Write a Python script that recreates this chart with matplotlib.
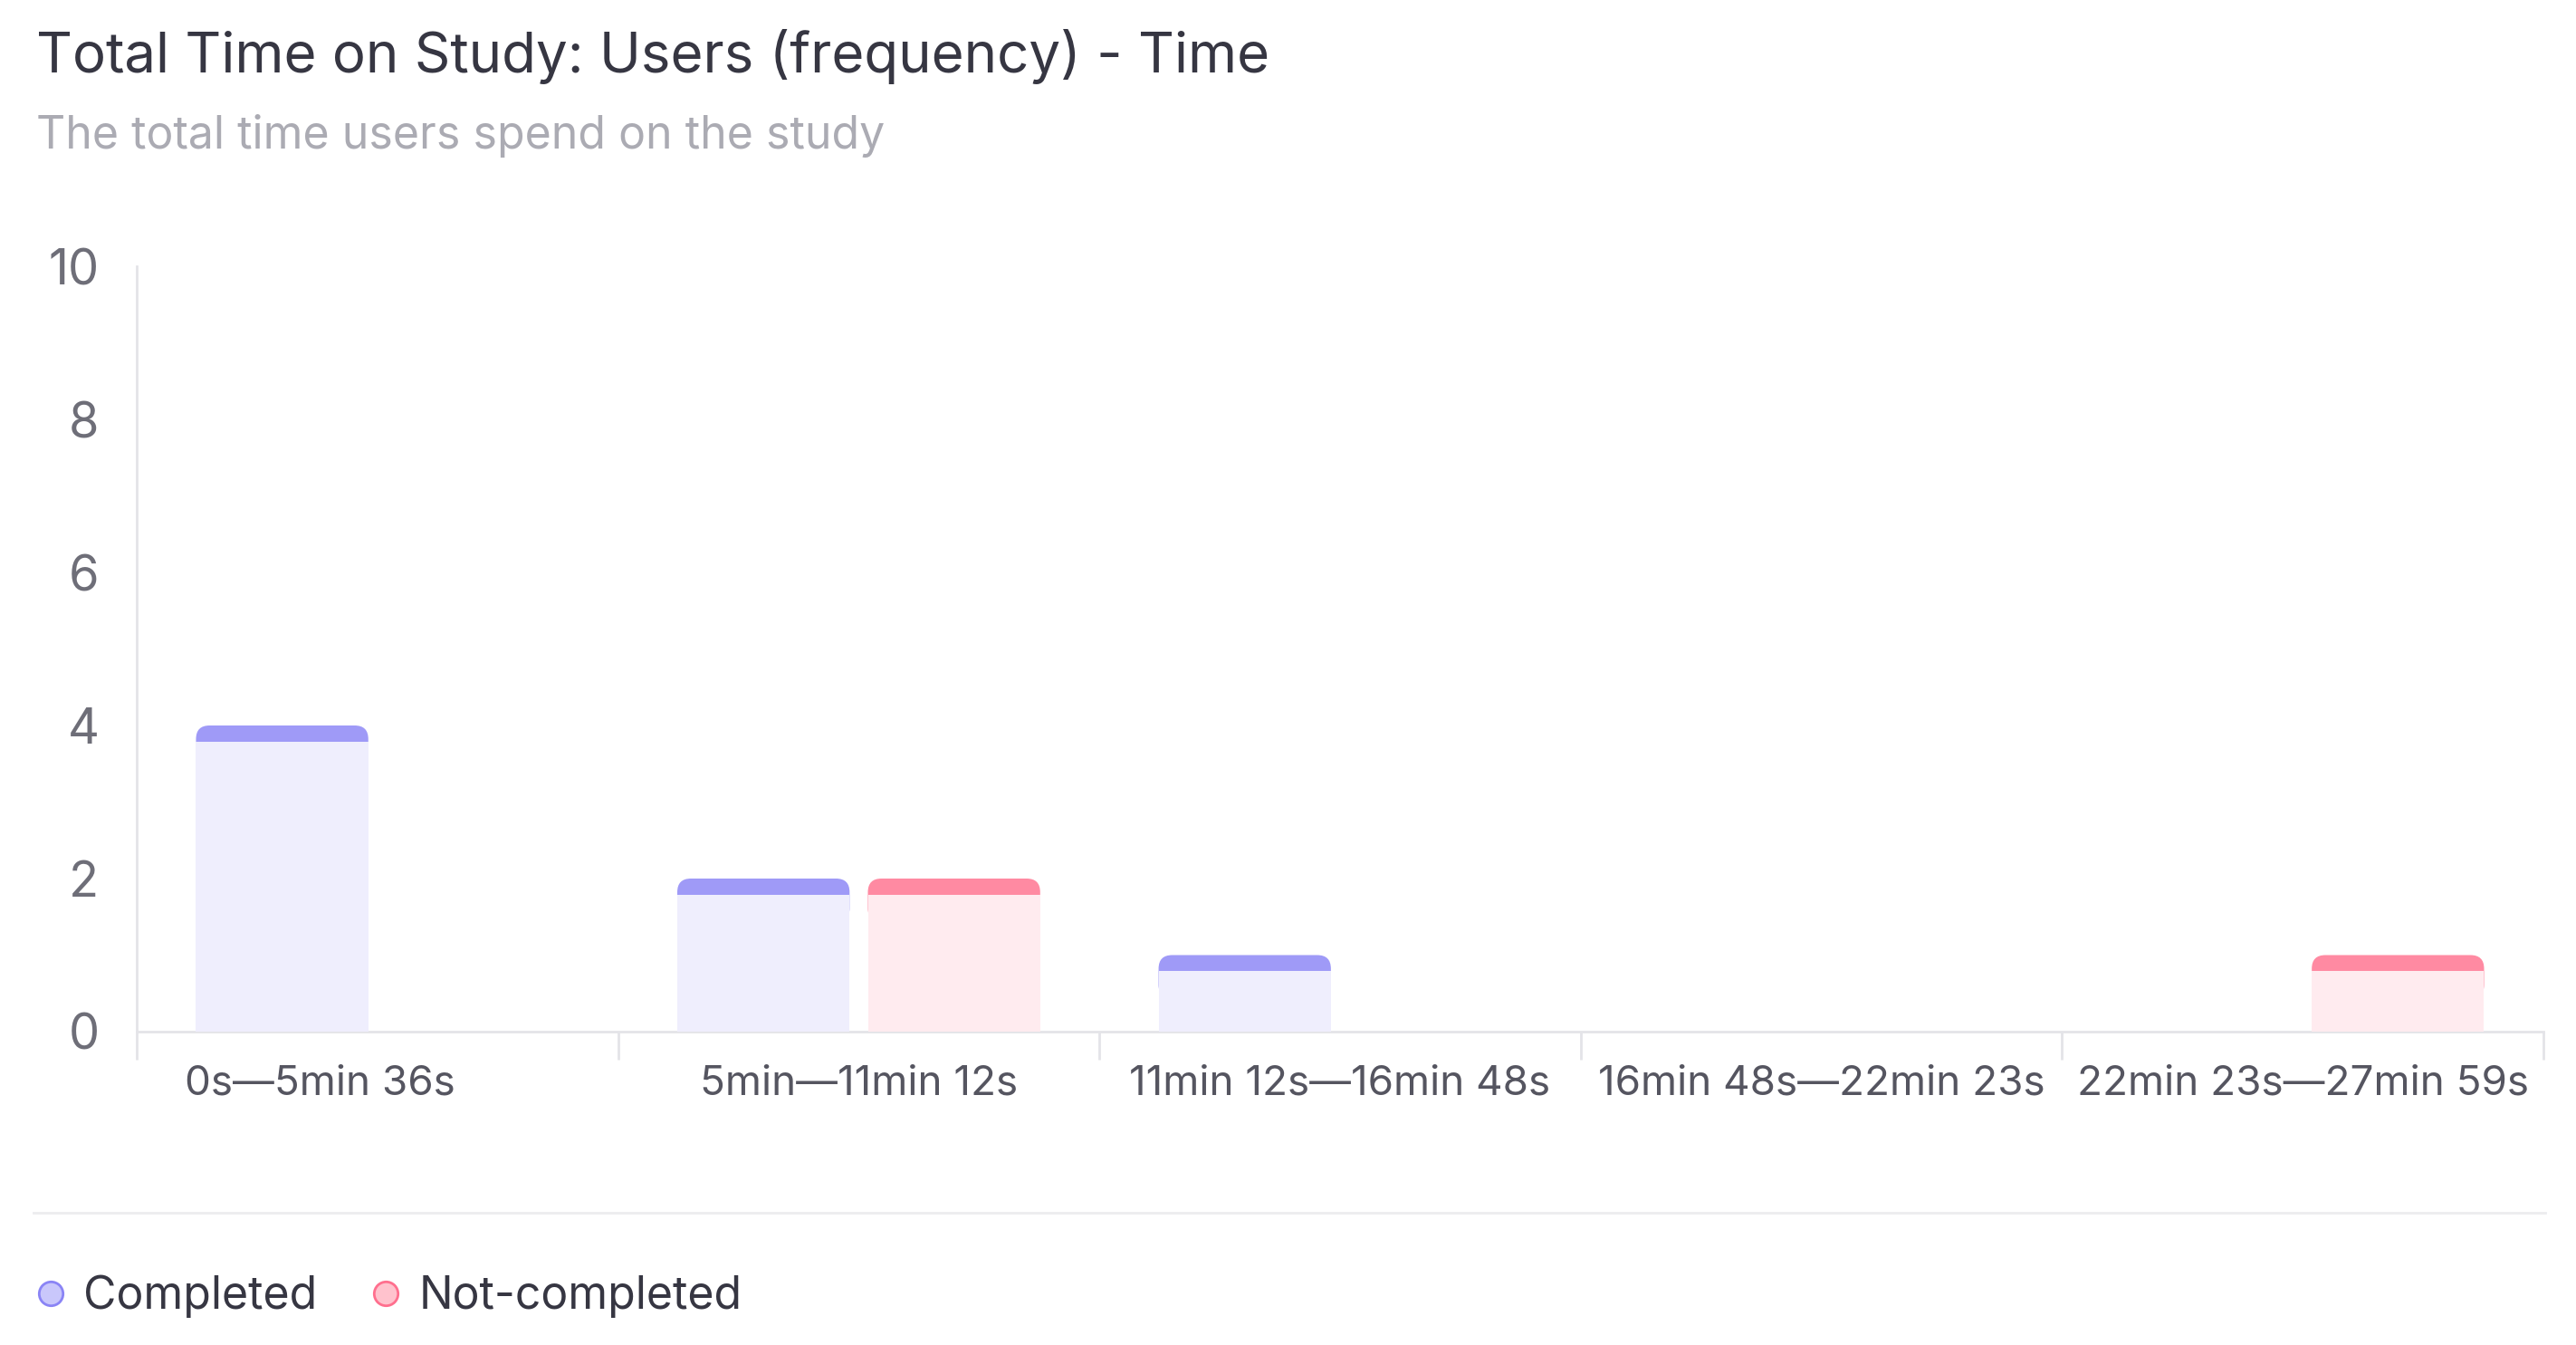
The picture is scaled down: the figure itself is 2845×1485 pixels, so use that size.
import numpy as np
import matplotlib
matplotlib.use("Agg")
import matplotlib.pyplot as plt
from matplotlib.patches import FancyBboxPatch
from matplotlib.lines import Line2D
import matplotlib.transforms as mtransforms

# data
bins = ["0s\u20145min 36s", "5min\u201411min 12s", "11min 12s\u201416min 48s",
        "16min 48s\u201422min 23s", "22min 23s\u201427min 59s"]
completed = [4, 2, 1, 0, 0]
not_completed = [0, 2, 0, 0, 1]
yticks = [0, 2, 4, 6, 8, 10]

plt.rcParams['font.family'] = ['Inter', 'DejaVu Sans']

fig = plt.figure(figsize=(28.45, 14.85), dpi=100)
ax = fig.add_axes([0.0531, 0.233, 0.9342, 0.569])

ax.set_xlim(-0.5, len(bins) - 0.5)
ax.set_ylim(0, 10)

# pixel sizes per data unit, used for the rounded caps
p0 = ax.transData.transform((0, 0))
p1 = ax.transData.transform((1, 1))
px_x = p1[0] - p0[0]
px_y = p1[1] - p0[1]
aspect = px_x / px_y

w = 0.358
off = 0.198
band = 18 / px_y   # thickness of the coloured top strip
rad = 15 / px_x    # corner radius (x units)

def draw_bars(xs, vals, body_col, cap_col):
    for x, v in zip(xs, vals):
        if v <= 0:
            continue
        ax.bar(x, v - band, width=w, color=body_col, zorder=3, linewidth=0)
        y0 = v - band - 2 * rad * aspect
        cap = FancyBboxPatch((x - w / 2, y0), w, v - y0,
                             boxstyle="round,pad=0,rounding_size=%f" % rad,
                             mutation_aspect=aspect, fc=cap_col, ec='none', zorder=2)
        ax.add_patch(cap)

x = np.arange(len(bins))
draw_bars(x - off, completed, '#efeefd', '#9f9af7')
draw_bars(x + off, not_completed, '#ffebef', '#ff8aa2')

# axes styling
for s in ['top', 'right']:
    ax.spines[s].set_visible(False)
ax.spines['left'].set_color('#e4e4e8')
ax.spines['bottom'].set_color('#e4e4e8')
ax.spines['left'].set_linewidth(2)
ax.spines['bottom'].set_linewidth(2)

ax.set_yticks(yticks)
ax.set_yticklabels([str(t) for t in yticks])
ax.tick_params(axis='y', length=0, pad=30, labelsize=39, labelcolor='#6e6e78')

# major ticks on the bin edges, labels at the centres
ax.set_xticks(np.arange(len(bins) + 1) - 0.5)
ax.set_xticklabels([])
ax.tick_params(axis='x', which='major', length=22, width=2, color='#e4e4e8')
ax.set_xticks(x, minor=True)
ax.set_xticklabels(bins, minor=True)
ax.tick_params(axis='x', which='minor', length=0, pad=26, labelsize=33, labelcolor='#555560')
lab0 = ax.get_xticklabels(minor=True)[0]
lab0.set_transform(lab0.get_transform() + mtransforms.ScaledTranslation(-0.63, 0, fig.dpi_scale_trans))

# title and subtitle
fig.text(0.014, 0.958, "Total Time on Study: Users (frequency) - Time", fontsize=44.5,
         color='#363642', va='center', ha='left')
fig.text(0.014, 0.899, "The total time users spend on the study", fontsize=36,
         color='#ababb3', va='center', ha='left')

# separator above legend
fig.add_artist(Line2D([0.013, 0.988], [0.098, 0.098], color='#ececef', lw=2))

handles = [Line2D([], [], ls='none', marker='o', ms=19, mfc='#c9c7fb', mec='#8a84f5', mew=2),
           Line2D([], [], ls='none', marker='o', ms=19, mfc='#ffc2cd', mec='#ff6f8e', mew=2)]
fig.legend(handles, ['Completed', 'Not-completed'], loc='center left',
           bbox_to_anchor=(-0.0015, 0.036), ncol=2, frameon=False, fontsize=36,
           handlelength=0.6, handletextpad=0.43, columnspacing=1.22,
           labelcolor='#363642')

plt.savefig('out.png', dpi=100)
